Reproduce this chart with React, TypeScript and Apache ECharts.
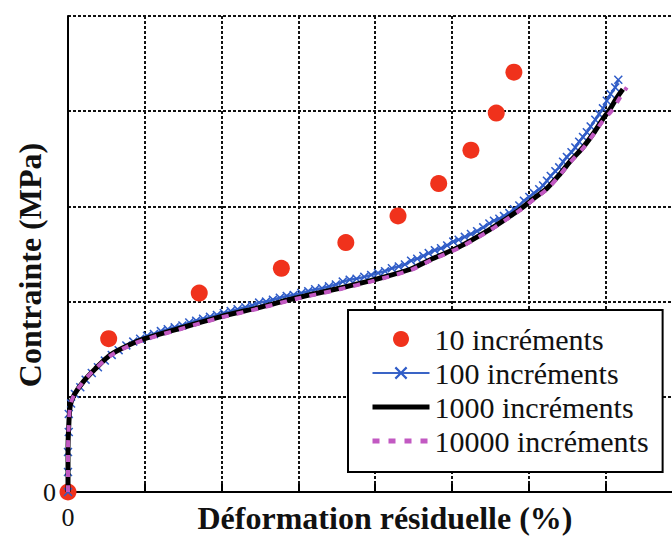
import React, { useEffect, useRef } from "react";
import * as echarts from "echarts";

const seriesNames = ["10 incréments", "100 incréments", "1000 incréments", "10000 incréments"];

// 10 increments (scatter)
const inc10: [number, number][] = [
  [0, 0], [0.53, 1.61], [1.71, 2.09], [2.78, 2.35], [3.62, 2.62],
  [4.3, 2.9], [4.83, 3.24], [5.25, 3.59], [5.58, 3.98], [5.81, 4.41],
];

// 100 increments (line with crosses)
const inc100: [number, number][] = [
  [0, 0], [0, 0.21], [0, 0.42], [0.01, 0.63], [0.01, 0.82], [0.04, 0.93], [0.09, 1.03], [0.16, 1.1],
  [0.23, 1.18], [0.31, 1.25], [0.39, 1.31], [0.48, 1.38], [0.57, 1.44], [0.66, 1.49], [0.76, 1.54],
  [0.85, 1.58], [0.94, 1.61], [1.03, 1.64], [1.12, 1.66], [1.21, 1.69], [1.3, 1.71], [1.39, 1.73],
  [1.49, 1.75], [1.58, 1.78], [1.67, 1.8], [1.76, 1.82], [1.85, 1.84], [1.94, 1.86], [2.03, 1.88],
  [2.12, 1.9], [2.21, 1.92], [2.31, 1.94], [2.4, 1.96], [2.49, 1.99], [2.58, 2.0], [2.67, 2.02],
  [2.76, 2.04], [2.85, 2.06], [2.94, 2.07], [3.04, 2.09], [3.13, 2.11], [3.22, 2.13], [3.31, 2.14],
  [3.4, 2.16], [3.49, 2.18], [3.58, 2.21], [3.67, 2.23], [3.76, 2.24], [3.86, 2.26], [3.95, 2.28],
  [4.04, 2.3], [4.13, 2.32], [4.22, 2.35], [4.31, 2.37], [4.39, 2.39], [4.47, 2.43], [4.55, 2.45],
  [4.63, 2.48], [4.7, 2.51], [4.78, 2.54], [4.86, 2.56], [4.94, 2.59], [5.02, 2.63], [5.09, 2.65],
  [5.17, 2.68], [5.25, 2.71], [5.33, 2.74], [5.41, 2.78], [5.49, 2.82], [5.55, 2.85], [5.62, 2.87],
  [5.68, 2.9], [5.75, 2.93], [5.81, 2.97], [5.88, 3.01], [5.94, 3.06], [6.01, 3.1], [6.07, 3.14],
  [6.14, 3.18], [6.19, 3.22], [6.24, 3.27], [6.29, 3.32], [6.35, 3.37], [6.4, 3.41], [6.45, 3.47],
  [6.5, 3.52], [6.56, 3.57], [6.61, 3.62], [6.66, 3.68], [6.71, 3.73], [6.76, 3.78], [6.81, 3.84],
  [6.87, 3.91], [6.92, 3.97], [6.97, 4.03], [7.02, 4.11], [7.07, 4.18], [7.13, 4.25], [7.17, 4.33],
];

// 1000 increments (solid black)
const inc1000: [number, number][] = [
  [0, 0], [0, 0.44], [0.01, 0.7], [0.03, 0.91], [0.08, 1.02], [0.2, 1.16], [0.35, 1.29], [0.55, 1.44],
  [0.78, 1.54], [1.0, 1.61], [1.46, 1.72], [1.98, 1.84], [2.5, 1.94], [2.98, 2.04], [3.54, 2.14],
  [3.99, 2.23], [4.46, 2.34], [4.72, 2.44], [5.11, 2.58], [5.46, 2.74], [5.69, 2.86], [5.89, 2.97],
  [6.08, 3.09], [6.24, 3.19], [6.41, 3.34], [6.54, 3.47], [6.71, 3.62], [6.84, 3.76], [6.97, 3.92],
  [7.06, 4.02], [7.15, 4.14], [7.23, 4.23],
];

// 10000 increments (magenta dashed)
const inc10000: [number, number][] = [
  [0, 0], [0, 0.44], [0.01, 0.7], [0.03, 0.91], [0.08, 1.02], [0.2, 1.16], [0.35, 1.29], [0.55, 1.43],
  [0.78, 1.53], [1.0, 1.6], [1.46, 1.71], [1.98, 1.83], [2.5, 1.93], [2.98, 2.03], [3.54, 2.13],
  [3.99, 2.22], [4.46, 2.33], [4.72, 2.43], [5.11, 2.57], [5.46, 2.73], [5.69, 2.85], [5.89, 2.96],
  [6.08, 3.08], [6.24, 3.18], [6.41, 3.33], [6.54, 3.46], [6.71, 3.61], [6.84, 3.75], [6.97, 3.9],
  [7.09, 4.01], [7.19, 4.14], [7.28, 4.25],
];

const xTitle = "Déformation résiduelle (%)";
const yTitle = "Contrainte (MPa)";

const SERIF = "Liberation Serif";
const CROSS = "path://M0,1.2L1.2,0L5,3.8L8.8,0L10,1.2L6.2,5L10,8.8L8.8,10L5,6.2L1.2,10L0,8.8L3.8,5Z";

export default function App() {
  const ref = useRef<HTMLDivElement>(null);
  useEffect(() => {
    if (!ref.current) return;
    const chart = echarts.init(ref.current, null, { renderer: "svg" });
    const gridLine = { show: true, lineStyle: { color: "#111", width: 2, type: [3, 2] as any } };
    chart.setOption({
      animation: false,
      backgroundColor: "#fff",
      grid: { left: 68, top: 16, width: 614, height: 476, containLabel: false, outerBoundsMode: "none" },
      xAxis: {
        type: "value", min: 0, max: 8, interval: 1,
        axisLine: { show: true, onZero: false, lineStyle: { color: "#000", width: 2 } },
        axisTick: { show: true, inside: true, length: 8, lineStyle: { color: "#000", width: 2 } },
        splitLine: gridLine,
        axisLabel: {
          formatter: (v: number) => (v === 0 ? "0" : ""),
          fontFamily: SERIF, fontSize: 26, color: "#111", margin: 12,
        },
      },
      yAxis: {
        type: "value", min: 0, max: 5, interval: 1,
        axisLine: { show: true, onZero: false, lineStyle: { color: "#000", width: 2 } },
        axisTick: { show: false },
        splitLine: gridLine,
        axisLabel: {
          formatter: (v: number) => (v === 0 ? "0" : ""),
          fontFamily: SERIF, fontSize: 26, color: "#111", margin: 12,
        },
      },
      legend: {
        orient: "vertical",
        left: 348, top: 310,
        padding: [14, 14, 16, 22],
        backgroundColor: "#fff",
        borderColor: "#000",
        borderWidth: 2,
        itemWidth: 57,
        itemHeight: 16,
        itemGap: 4,
        textStyle: { fontFamily: SERIF, fontSize: 30, color: "#111" },
        data: [
          { name: seriesNames[0], itemStyle: { color: "#f0321c", opacity: 1 } },
          { name: seriesNames[1] },
          { name: seriesNames[2], itemStyle: { opacity: 0 }, lineStyle: { width: 5, color: "#000" } },
          { name: seriesNames[3], itemStyle: { opacity: 0 }, lineStyle: { width: 5, color: "#c259c2", type: [7, 9] } },
        ],
        z: 10,
      },
      graphic: [
        {
          type: "text", x: 385, y: 518,
          style: { text: xTitle, fontFamily: SERIF, fontWeight: "bold", fontSize: 32, fill: "#111", textAlign: "center", textVerticalAlign: "middle" },
        },
        {
          type: "text", x: 30, y: 265, rotation: Math.PI / 2,
          style: { text: yTitle, fontFamily: SERIF, fontWeight: "bold", fontSize: 32, fill: "#111", textAlign: "center", textVerticalAlign: "middle" },
        },
      ],
      series: [
        {
          name: seriesNames[0], type: "scatter", data: inc10, symbol: "circle", symbolSize: 17, clip: false,
          itemStyle: { color: "#f0321c", opacity: 1 }, z: 2,
        },
        {
          name: seriesNames[1], type: "line", data: inc100, symbol: CROSS, symbolSize: 9, showSymbol: true, clip: false,
          lineStyle: { color: "#3a64c6", width: 2.5 }, itemStyle: { color: "#2f5cc8" }, z: 3,
        },
        {
          name: seriesNames[2], type: "line", data: inc1000, symbol: "none", smooth: 0.3, clip: false,
          lineStyle: { color: "#000", width: 5 }, itemStyle: { color: "#000" }, z: 4,
        },
        {
          name: seriesNames[3], type: "line", data: inc10000, symbol: "none", smooth: 0.3, clip: false,
          lineStyle: { color: "#c259c2", width: 4, type: [7, 8] as any }, itemStyle: { color: "#c259c2" }, z: 5,
        },
      ],
    });
    return () => chart.dispose();
  }, []);
  return <div ref={ref} style={{ position: "absolute", left: 0, top: 0, width: 672, height: 537 }} />;
}
